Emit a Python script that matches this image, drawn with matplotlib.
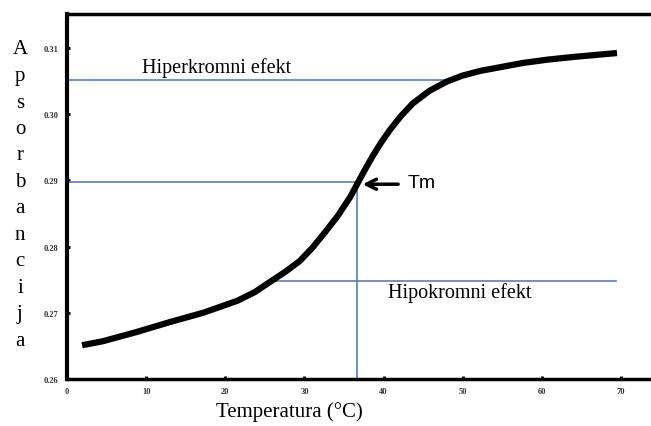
import numpy as np
import matplotlib.pyplot as plt

# Melting curve
temperature = [1.9, 4.5, 8.8, 13.0, 17.2, 21.5, 23.7, 25.7, 27.6, 29.4,
               31.0, 32.5, 34.2, 35.8, 36.7, 37.7, 38.7, 39.7, 40.8, 42.2,
               43.7, 45.8, 48.0, 50.0, 52.2, 54.9, 57.6, 60.7, 63.9, 66.7,
               69.5]
absorbance = [0.2651, 0.2657, 0.2671, 0.2686, 0.2700, 0.2718, 0.2731, 0.2747,
              0.2762, 0.2778, 0.2798, 0.2820, 0.2846, 0.2875, 0.2895, 0.2917,
              0.2938, 0.2957, 0.2976, 0.2997, 0.3016, 0.3035, 0.3049, 0.3058,
              0.3065, 0.3071, 0.3077, 0.3082, 0.3086, 0.3089, 0.3092]

x_ticks = [0, 10, 20, 30, 40, 50, 60, 70]
y_ticks = [0.26, 0.27, 0.28, 0.29, 0.30, 0.31]

tm = 36.6
tm_abs = 0.2898
hyper_abs = 0.3052
hyper_end = 48.7
hypo_abs = 0.2748
hypo_start = 26.0
hypo_end = 69.4

ylabel_letters = list("Apsorbancija")

blue = "#5b7fb0"
serif = ["Liberation Serif", "DejaVu Serif"]

fig = plt.figure(figsize=(6.51, 4.27), dpi=100)
ax = fig.add_axes([0.103, 0.110, 0.897, 0.855])

# reference lines
ax.plot([0, hyper_end], [hyper_abs, hyper_abs], color=blue, lw=1.2)
ax.plot([0, tm], [tm_abs, tm_abs], color=blue, lw=1.2)
ax.plot([tm, tm], [0.26, tm_abs], color=blue, lw=1.2)
ax.plot([hypo_start, hypo_end], [hypo_abs, hypo_abs], color=blue, lw=1.2)

# curve
ax.plot(temperature, absorbance, color="black", lw=4.5,
        solid_capstyle="butt", solid_joinstyle="round")

ax.set_xlim(0, 73.8)
ax.set_ylim(0.26, 0.3151)

ax.set_xticks(x_ticks)
ax.set_yticks(y_ticks)
ax.set_xticklabels([str(v) for v in x_ticks])
ax.set_yticklabels([f"{v:.2f}" for v in y_ticks])
for lab in ax.get_xticklabels() + ax.get_yticklabels():
    lab.set_family(serif)
    lab.set_fontsize(6)
    lab.set_fontweight("bold")
    lab.set_color("#333333")
ax.tick_params(axis="both", direction="in", length=2, width=2, pad=6)

ax.spines["right"].set_visible(False)
ax.spines["left"].set_linewidth(3)
ax.spines["top"].set_linewidth(2.5)
ax.spines["bottom"].set_linewidth(2.5)

# annotations
ax.text(9.5, 0.3071, "Hiperkromni efekt", family=serif, fontsize=14.5,
        ha="left", va="center")
ax.text(40.6, 0.2731, "Hipokromni efekt", family=serif, fontsize=14.5,
        ha="left", va="center")
ax.annotate("", xy=(37.0, tm_abs - 0.0004), xytext=(42.2, tm_abs - 0.0004),
            arrowprops=dict(arrowstyle="->", color="black", lw=2.5,
                            mutation_scale=18))
ax.text(43.0, tm_abs - 0.0002, "Tm", family=["Liberation Sans", "DejaVu Sans"],
        fontsize=14, ha="left", va="center")

# x label
fig.text(289 / 651, 1 - 412 / 427, "Temperatura (°C)", family=serif,
         fontsize=15, ha="center", va="center")

# y label written as stacked letters
for i, ch in enumerate(ylabel_letters):
    fig.text(20 / 651, 1 - (50 + i * 26.5) / 427, ch, family=serif,
             fontsize=15, ha="center", va="center")

fig.savefig("out.png", dpi=100)
